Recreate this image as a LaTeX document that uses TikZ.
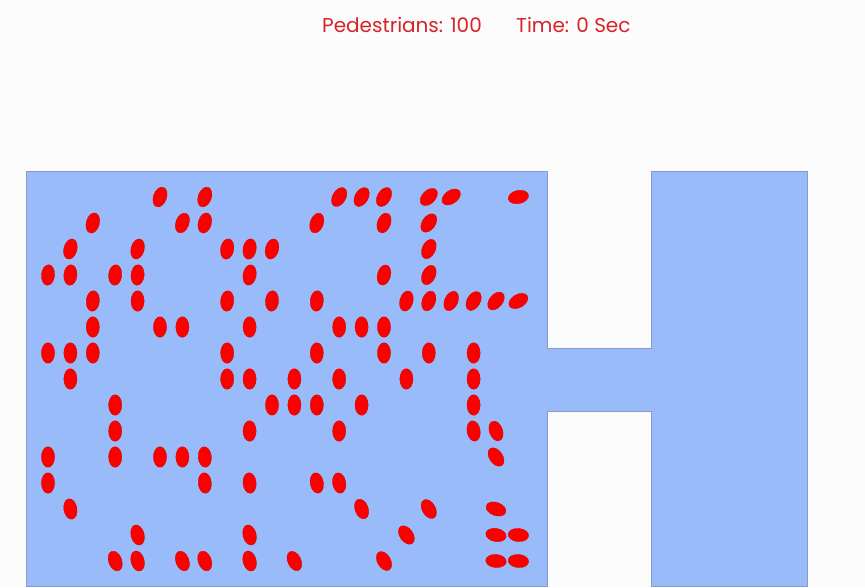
\documentclass[tikz,border=0pt]{standalone}
\usepackage{fontspec}
\setmainfont{Poppins}
\usetikzlibrary{positioning}
\definecolor{floorblue}{RGB}{153,187,250}
\definecolor{wallgray}{RGB}{135,155,200}
\definecolor{pedred}{RGB}{252,0,0}
\definecolor{labelred}{RGB}{215,35,40}
\tikzset{
  room/.style={draw=wallgray, fill=floorblue, line width=1pt},
  ped/.style={fill=pedred, draw=pedred!85!black, line width=0.3pt},
  caption/.style={text=labelred, font=\fontsize{20}{24}\selectfont, inner sep=0pt},
}

\begin{document}
\begin{tikzpicture}[x=1pt, y=-1pt]

\fill[white!99!black] (0,0) rectangle (865,587);
\useasboundingbox (0,0) rectangle (865,587);

% header
\node[caption] (count) at (402,25) {Pedestrians: 100};
\node[caption, right=34pt of count] (clock) {Time: 0 Sec};

% floor: two rooms and the corridor
\draw[room] (26,171) -- (547,171) -- (547,348) -- (651,348) -- (651,171)
  -- (807,171) -- (807,586) -- (651,586) -- (651,411) -- (547,411)
  -- (547,586) -- (26,586) -- cycle;

% pedestrians: column / row / tilt
\foreach \c/\r/\t in {
  5/0/20, 7/0/20, 13/0/30, 14/0/30, 15/0/30, 17/0/45, 18/0/55, 21/0/78,
  2/1/15, 6/1/20, 7/1/15, 12/1/20, 15/1/20, 17/1/35,
  1/2/15, 4/2/15, 8/2/10, 9/2/10, 10/2/15, 17/2/25,
  0/3/5, 1/3/5, 3/3/5, 4/3/5, 9/3/10, 15/3/15, 17/3/25,
  2/4/5, 4/4/0, 8/4/5, 10/4/5, 12/4/5, 16/4/15, 17/4/20, 18/4/25, 19/4/30, 20/4/40, 21/4/60,
  2/5/0, 5/5/0, 6/5/0, 9/5/0, 13/5/0, 14/5/0, 15/5/0,
  0/6/0, 1/6/0, 2/6/0, 8/6/0, 12/6/0, 15/6/0, 17/6/0, 19/6/0,
  1/7/0, 8/7/0, 9/7/0, 11/7/0, 13/7/0, 16/7/0, 19/7/0,
  3/8/0, 10/8/0, 11/8/0, 12/8/0, 14/8/0, 19/8/0,
  3/9/0, 9/9/0, 13/9/0, 19/9/-10, 20/9/-20,
  0/10/0, 3/10/0, 5/10/0, 6/10/0, 7/10/-5, 20/10/-35,
  0/11/0, 7/11/-5, 9/11/-5, 12/11/-10, 13/11/-10,
  1/12/-10, 14/12/-20, 17/12/-30, 20/12/-70,
  4/13/-15, 9/13/-15, 16/13/-35, 20/13/-80, 21/13/-85,
  3/14/-20, 4/14/-15, 6/14/-20, 7/14/-20, 9/14/-15, 11/14/-25, 15/14/-30, 20/14/-85, 21/14/-85}
  \filldraw[ped, shift={(48+22.4*\c, 197+26*\r)}, rotate=-\t]
    (0,0) ellipse [x radius=6.6, y radius=10.3];

\end{tikzpicture}
\end{document}
